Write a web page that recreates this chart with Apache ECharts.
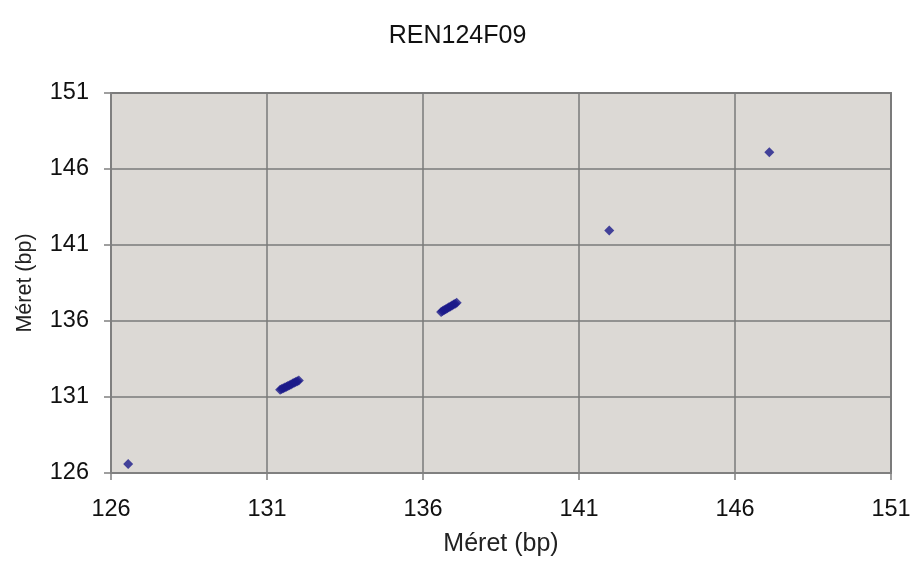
<!DOCTYPE html>
<html>
<head>
<meta charset="utf-8">
<style>
  html, body { margin: 0; padding: 0; background: #ffffff; }
  #chart { width: 915px; height: 562px; }
</style>
<script src="https://cdn.jsdelivr.net/npm/echarts@6/dist/echarts.min.js"></script>
</head>
<body>
<div id="chart"></div>
<script>
// Fragment sizes (bp): measured vs. reference
const chartTitle = 'REN124F09';
const axisName = 'Méret (bp)';
const axisTicks = [126, 131, 136, 141, 146, 151];

const sizeX = [
  126.55,
  131.42, 131.47, 131.52, 131.57, 131.62, 131.67, 131.72, 131.77, 131.82, 131.87, 131.92, 131.97, 132.02,
  136.58, 136.63, 136.68, 136.73, 136.78, 136.83, 136.88, 136.93, 136.98, 137.03, 137.08,
  141.97,
  147.1
];
const sizeY = [
  126.6,
  131.48, 131.53, 131.58, 131.63, 131.68, 131.73, 131.78, 131.83, 131.88, 131.93, 131.98, 132.03, 132.08,
  136.6, 136.66, 136.72, 136.78, 136.84, 136.9, 136.96, 137.02, 137.08, 137.14, 137.2,
  141.95,
  147.1
];

const points = sizeX.map((x, i) => [x, sizeY[i]]);

const chart = echarts.init(document.getElementById('chart'));
const fontFamily = 'Liberation Sans, Arial, sans-serif';
const labelFont = { fontFamily: fontFamily, fontSize: 23.5, color: '#111111' };

const axisCommon = {
  type: 'value',
  min: axisTicks[0],
  max: axisTicks[axisTicks.length - 1],
  interval: axisTicks[1] - axisTicks[0],
  name: axisName,
  nameLocation: 'middle',
  axisLine: { show: true, lineStyle: { color: '#808080', width: 2 } },
  axisTick: { show: true, length: 7, lineStyle: { color: '#808080', width: 1.5 } },
  splitLine: { show: true, lineStyle: { color: '#7a7a7a', width: 1.5 } }
};

chart.setOption({
  backgroundColor: '#ffffff',
  animation: false,
  title: {
    text: chartTitle,
    left: 'center',
    top: 19,
    textStyle: { fontFamily: fontFamily, fontSize: 25, fontWeight: 'normal', color: '#111111' }
  },
  grid: {
    left: 111, right: 24, top: 93, bottom: 88,
    show: true,
    backgroundColor: '#dcd9d5',
    borderColor: '#808080',
    borderWidth: 2
  },
  xAxis: Object.assign({}, axisCommon, {
    nameGap: 59,
    nameTextStyle: { fontFamily: fontFamily, fontSize: 25, color: '#222222' },
    axisLabel: Object.assign({}, labelFont, { margin: 25 })
  }),
  yAxis: Object.assign({}, axisCommon, {
    nameGap: 75,
    nameTextStyle: { fontFamily: fontFamily, fontSize: 21.5, color: '#222222' },
    axisLabel: Object.assign({}, labelFont, { margin: 22 })
  }),
  series: [{
    type: 'scatter',
    data: points,
    symbol: 'diamond',
    symbolSize: 10,
    itemStyle: { color: '#1c1a8a' }
  }]
});
</script>
</body>
</html>
